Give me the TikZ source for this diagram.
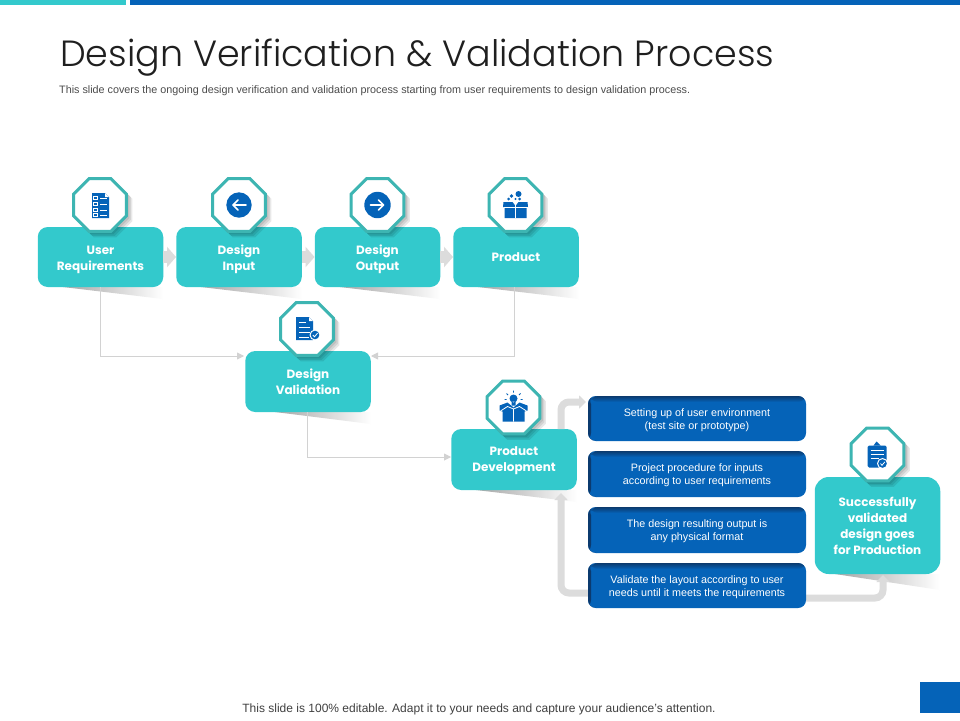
\documentclass[tikz,border=0pt]{standalone}
\usepackage{fontspec}
\setmainfont{Liberation Sans}
\newfontfamily\gothic{Poppins}
\newfontfamily\gothiclight{Poppins Light}
\usetikzlibrary{shapes.geometric,arrows.meta,calc}
\definecolor{teal1}{HTML}{33C9CC}
\definecolor{teal2}{HTML}{3DB5B2}
\definecolor{blue1}{HTML}{0563B8}
\definecolor{navy1}{HTML}{0B3A6E}
\definecolor{route}{HTML}{DCDCDC}
\definecolor{thin1}{HTML}{D2D2D2}
\tikzset{
  x=1pt,y=-1pt,
  tealbox/.style={draw=none,fill=teal1,rounded corners=10pt,minimum height=60pt,minimum width=125.5pt,inner sep=0pt,align=center,text=white,font=\gothic\bfseries\fontsize{12}{16}\selectfont,text depth=0pt},
  octa/.style={regular polygon,regular polygon sides=8,minimum size=57pt,inner sep=0pt,draw=teal2,line width=3pt,fill=white},
  octashadow/.style={regular polygon,regular polygon sides=8,minimum size=59pt,inner sep=0pt,fill=black,fill opacity=.09},
  bluebox/.style={draw=none,fill=blue1,rounded corners=8pt,minimum width=218pt,inner sep=0pt,align=center,text=white,font=\fontsize{10.75}{13}\selectfont,text height=21pt,text depth=0pt,
    path picture={
      \shade[left color=navy1,right color=blue1] (path picture bounding box.south west) rectangle ($(path picture bounding box.north west)+(3,0)$);
      \shade[top color=navy1,bottom color=blue1] ($(path picture bounding box.north west)+(2,0)$) rectangle ($(path picture bounding box.north east)+(0,6)$);
    }},
  chev/.style={draw=route,line width=12pt,-{Triangle[length=9pt,width=20pt]}},
  thinline/.style={draw=thin1,line width=.9pt,-{Triangle[length=7pt,width=7pt]}},
  thick route/.style={draw=route,line width=7pt,rounded corners=8pt,-{Triangle[length=7pt,width=13pt]}},
  iconfill/.style={fill=blue1,draw=none},
  iconline/.style={draw=white,line width=.9pt},
}
\newcommand{\wedgeunder}[4]{\shade[left color=black!35,right color=white,shading angle=90] (#1,#3) -- (#2,#3) -- (#2,#4) -- cycle;}
\begin{document}
\begin{tikzpicture}
\useasboundingbox (0,0) rectangle (960,720);
\fill[white] (0,0) rectangle (960,720);
% top bars, corner square
\fill[teal1] (0,0) rectangle (126,4.5);
\fill[blue1] (130,0) rectangle (960,4.5);
\fill[blue1] (920,682) rectangle (960,713);
% headings
\node[anchor=west,inner sep=0pt,font=\gothiclight\fontsize{36.45}{40}\selectfont,text=black!88] (title) at (60,58) {Design Verification \& Validation Process};
\node[anchor=west,inner sep=0pt,font=\fontsize{10.78}{12}\selectfont,text=black!70] (sub) at (59,91) {This slide covers the ongoing design verification and validation process starting from user requirements to design validation process.};
\node[inner sep=0pt,font=\fontsize{12}{14}\selectfont,text=black!75] (foot) at (479,709) {This slide is 100\% editable. Adapt it to your needs and capture your audience's attention.};
% box shadows
\wedgeunder{63}{163}{287}{299}
\wedgeunder{201}{302}{287}{299}
\wedgeunder{340}{440}{287}{299}
\wedgeunder{478}{579}{287}{299}
\wedgeunder{275}{371}{412}{424}
\wedgeunder{476}{577}{490}{502}
\wedgeunder{835}{940}{574}{590}
% thin connectors coordinates
\coordinate (dvL) at (244,356);
\coordinate (dvR) at (371,356);
\coordinate (pdL) at (451,457);
\coordinate (s1) at (586,402);
\coordinate (pdT) at (561,429);
\coordinate (pdB) at (561,493);
\coordinate (v4L) at (588,593);
\coordinate (v4R) at (806,598);
\coordinate (scB) at (883,575);
% teal boxes
\node[tealbox,text height=27pt] (ur) at (100.5,257) {User\\Requirements};
\node[tealbox,text height=27pt] (di) at (239,257) {Design\\Input};
\node[tealbox,text height=27pt] (dq) at (377.5,257) {Design\\Output};
\node[tealbox,text height=9pt] (pr) at (516,257) {Product};
\node[tealbox,text height=25pt,minimum height=61pt] (dv) at (308,381.5) {Design\\Validation};
\node[tealbox,text height=23pt,minimum height=61pt] (pd) at (514,459.5) {Product\\Development};
% connectors
\draw[chev] (ur.east) -- (di.west);
\draw[chev] (di.east) -- (dq.west);
\draw[chev] (dq.east) -- (pr.west);
\draw[thinline] (ur.south) |- (dvL);
\draw[thinline] ($(pr.south)+(-2,0)$) |- (dvR);
\draw[thinline] ($(dv.south)+(-1,0)$) |- (pdL);
\draw[thick route] (pdT) -- (561,402) -- (s1);
\draw[thick route] (v4L) -- (561,593) -- (pdB);
\draw[thick route] (v4R) -- (883,598) -- (scB);
% blue boxes
\node[bluebox,minimum height=45pt] (b1) at (697,418.5) {Setting up of user environment\\(test site or prototype)};
\node[bluebox,minimum height=46pt] (b2) at (697,474) {Project procedure for inputs\\according to user requirements};
\node[bluebox,minimum height=46pt] (b3) at (697,530) {The design resulting output is\\any physical format};
\node[bluebox,minimum height=45pt] (b4) at (697,585.5) {Validate the layout according to user\\needs until it meets the requirements};
% final box
\node[tealbox,text height=58pt,minimum height=97pt,rounded corners=14pt] (sc) at (877.5,525.5) {Successfully\\validated\\design goes\\for Production};
% octagons
\foreach \n/\px/\py in {o1/100/205,o2/239/205,o3/377.5/205,o4/515.5/205,o5/307/329,o6/513.5/407.5,o7/877.5/454.5}{
  \node[octashadow] at (\px+2,\py+2) {};
  \node[octashadow] at (\px+3.5,\py+3.5) {};
  \node[octashadow] at (\px+5,\py+5) {};
  \node[octa] (\n) at (\px,\py) {};
}
% icon 1: checklist
\begin{scope}[shift={(o1.center)}]
\fill[iconfill] (-8,-12) -- (5,-12) -- (9,-8) -- (9,13) -- (-8,13) -- cycle;
\fill[white] (5,-12) -- (5,-8) -- (9,-8) -- cycle;
\foreach \yy in {-7,-1,5,10}{
  \draw[white,line width=.7pt] (-6.5,\yy-1.8) rectangle (-2.5,\yy+1.8);
  \draw[iconline] (0,\yy) -- (7,\yy);
}
\end{scope}
% icon 2: arrow left
\begin{scope}[shift={(o2.center)}]
\fill[iconfill] (0,0) circle (12.7);
\draw[white,line width=1.6pt,line cap=round,line join=round] (7,0) -- (-6,0) (-1,-5) -- (-6,0) -- (-1,5);
\end{scope}
% icon 3: arrow right
\begin{scope}[shift={(o3.center)}]
\fill[iconfill] (0,0) circle (13.2);
\draw[white,line width=1.6pt,line cap=round,line join=round] (-7,0) -- (6,0) (1,-5) -- (6,0) -- (1,5);
\end{scope}
% icon 4: box with dots
\begin{scope}[shift={(o4.center)}]
\fill[iconfill] (-12,-3) -- (-3,-3) -- (0,1) -- (3,-3) -- (12,-3) -- (12.5,2) -- (11,2) -- (11,13) -- (-11,13) -- (-11,2) -- (-12.5,2) -- cycle;
\draw[white,line width=.8pt] (0,0) -- (0,13) (-12,2.5) -- (12,2.5);
\fill[iconfill] (3,-11) circle (3) (-4,-9) circle (1.8) (-7,-6) circle (1.5) (4,-6) circle (1.5) (0,-6) circle (1.2);
\end{scope}
% icon 5: document with check
\begin{scope}[shift={(o5.center)}]
\fill[iconfill] (-11,-12) -- (2,-12) -- (6,-8) -- (6,11) -- (-11,11) -- cycle;
\fill[white] (2,-12) -- (2,-8) -- (6,-8) -- cycle;
\draw[iconline] (-8,-7) -- (-1,-7) (-8,-2) -- (3,-2) (-8,3) -- (3,3) (-8,8) -- (2,8);
\fill[white] (8,6) circle (5.5);
\fill[iconfill] (8,6) circle (4.3);
\draw[white,line width=.8pt] (5.8,6) -- (7.5,7.8) -- (10.5,4.2);
\end{scope}
% icon 6: opened box with bulb
\begin{scope}[shift={(o6.center)}]
\fill[iconfill] (-14,-2) -- (-6,-5) -- (0,0) -- (6,-5) -- (14,-2) -- (14,3) -- (11,4) -- (11,14) -- (-11,14) -- (-11,4) -- (-14,3) -- cycle;
\draw[white,line width=.8pt] (0,1) -- (0,14) (-13,3.5) -- (-6,-1) -- (0,1.5) -- (6,-1) -- (13,3.5);
\fill[iconfill] (0,-9) circle (4) (-2,-6) rectangle (2,-2);
\draw[blue1,line width=.8pt] (0,-17) -- (0,-15) (-7,-14) -- (-5.5,-12.5) (7,-14) -- (5.5,-12.5) (-9,-8) -- (-7,-8) (9,-8) -- (7,-8);
\end{scope}
% icon 7: clipboard with check
\begin{scope}[shift={(o7.center)}]
\fill[iconfill,rounded corners=1.5pt] (-10,-9) rectangle (9,13);
\fill[iconfill] (-4,-9) -- (-1,-13) -- (3,-9) -- cycle;
\draw[iconline] (-7,-4) -- (6,-4) (-7,0) -- (6,0) (-7,4) -- (1,4);
\fill[white] (5,9) circle (5.5);
\fill[iconfill] (5,9) circle (4.3);
\draw[white,line width=.8pt] (3,9) -- (4.5,10.8) -- (7.3,7.4);
\end{scope}
\end{tikzpicture}
\end{document}
